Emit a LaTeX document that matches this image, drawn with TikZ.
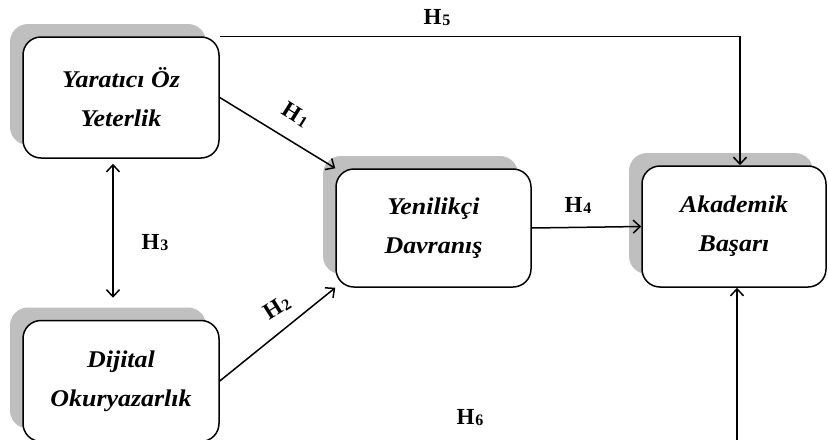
\documentclass[tikz,border=0pt]{standalone}
\usepackage{fontspec}
\setmainfont{Liberation Serif}
\newfontfamily\boxfont[FakeStretch=1.08]{Liberation Serif}
\usetikzlibrary{arrows.meta,shadows}
\newcommand{\Hlab}[1]{H\kern0.8pt\raisebox{-0.1ex}{\fontsize{16}{16}\selectfont #1}}
\begin{document}
\begin{tikzpicture}[x=1pt,y=-1pt,
  box/.style={draw=black, line width=1.5pt, fill=white, rounded corners=18pt,
    minimum width=196pt, minimum height=121pt, align=center, inner sep=0pt,
    font=\boxfont\fontsize{24}{39}\selectfont\bfseries\itshape,
    general shadow={fill=black!25, shadow xshift=-13pt, shadow yshift=13pt}},
  arr/.style={line width=1.5pt, -{Straight Barb[length=7pt,width=13pt,line width=1.5pt]}},
  darr/.style={line width=1.5pt, {Straight Barb[length=7pt,width=13pt,line width=1.5pt]}-{Straight Barb[length=7pt,width=13pt,line width=1.5pt]}},
  hlab/.style={font=\fontsize{23}{23}\selectfont\bfseries, inner sep=0pt}]
\useasboundingbox (0,0) rectangle (829,439);
\clip (0,0) rectangle (829,439);
\node[box] (b1) at (121,97.5) {Yaratıcı Öz\\Yeterlik};
\node[box, minimum width=195pt, minimum height=118pt] (b2) at (433.5,228) {Yenilikçi\\Davranış};
\node[box, minimum width=184pt] (b3) at (734,226.5) {Akademik\\Başarı};
\node[box] (b4) at (121,381) {Dijital\\Okuryazarlık};
\draw[arr] (b1.north east) -| ([xshift=6pt]b3.north);
\draw[arr] (b1.east) -- (b2.north west);
\draw[arr] (b4.east) -- (b2.south west);
\draw[darr] ([xshift=-8pt,yshift=-5pt]b1.south) -- ([xshift=-8pt,yshift=22pt]b4.north);
\draw[arr] (b2.east) -- (b3.west);
\coordinate (h6s) at (737,445);
\draw[arr] (h6s) -- ([xshift=3pt]b3.south);
\node[hlab] (l5) at (437,18) {\Hlab{5}};
\node[hlab, rotate=-32] (l1) at (296,115) {\Hlab{1}};
\node[hlab, rotate=32] (l2) at (277,307) {\Hlab{2}};
\node[hlab] (l3) at (155,243) {\Hlab{3}};
\node[hlab] (l4) at (578,205) {\Hlab{4}};
\node[hlab] (l6) at (470,418) {\Hlab{6}};
\end{tikzpicture}
\end{document}
